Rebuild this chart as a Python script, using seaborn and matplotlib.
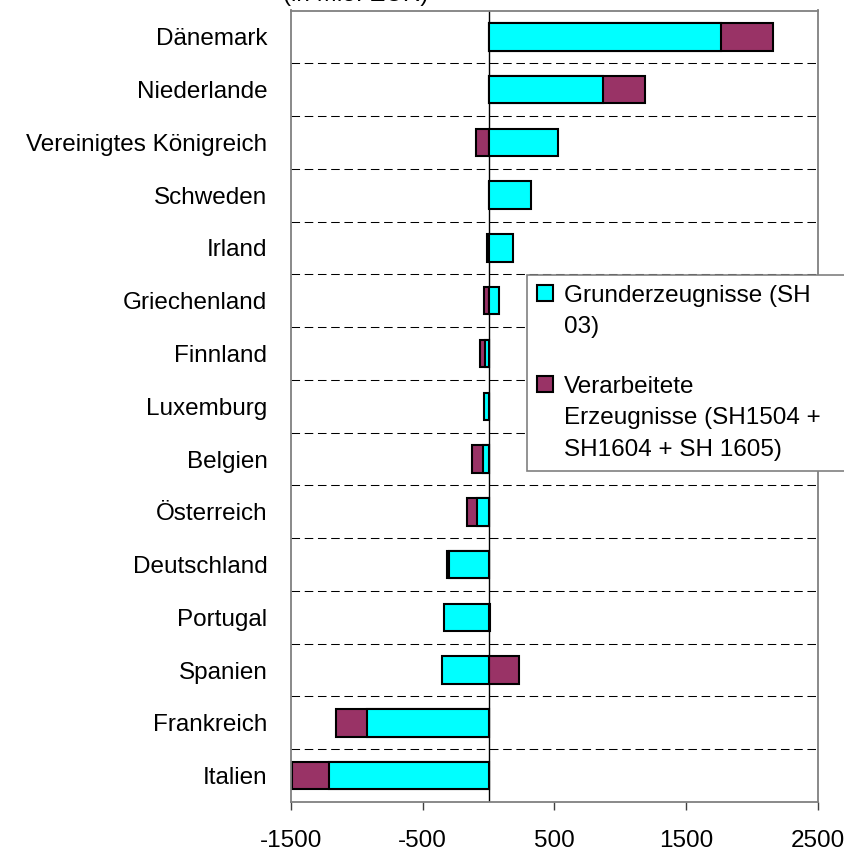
import numpy as np
import matplotlib
matplotlib.use("Agg")
import matplotlib.pyplot as plt
from matplotlib.patches import Patch
import seaborn as sns

# Werte
laender = ["Dänemark", "Niederlande", "Vereinigtes Königreich", "Schweden", "Irland",
           "Griechenland", "Finnland", "Luxemburg", "Belgien", "Österreich",
           "Deutschland", "Portugal", "Spanien", "Frankreich", "Italien"]
grund = [1767, 865, 530, 323, 183, 77, -27, -32, -42, -90, -303, -338, -351, -926, -1212]
verarb = [392, 324, -95, 0, -12, -32, -38, 0, -81, -76, -15, 12, 229, -233, -279]
xticks = [-1500, -500, 500, 1500, 2500]

cyan = "#00FFFF"
lila = "#993366"

sns.set_style("white")
plt.rcParams["font.family"] = ["Liberation Sans", "DejaVu Sans"]
plt.rcParams["font.size"] = 17.5
plt.rcParams["text.color"] = "black"
plt.rcParams["xtick.color"] = "black"
plt.rcParams["ytick.color"] = "black"

# Excel-Stapelung: gleiche Vorzeichen werden gestapelt, sonst ab 0
aussen = [g + v if g * v > 0 else v for g, v in zip(grund, verarb)]

fig = plt.figure(figsize=(8.45, 8.51), dpi=100)
ax = fig.add_axes([291 / 845, 1 - 802 / 851, (818 - 291) / 845, (802 - 10.5) / 851])

sns.barplot(x=aussen, y=laender, orient="h", color=lila, saturation=1, width=0.52,
            edgecolor="black", linewidth=1.5, errorbar=None, ax=ax)
sns.barplot(x=grund, y=laender, orient="h", color=cyan, saturation=1, width=0.52,
            edgecolor="black", linewidth=1.5, errorbar=None, ax=ax)

ax.axvline(0, color="black", lw=1, zorder=0.8)
ax.set_xlim(-1500, 2500)
ax.set_xticks(xticks)
ax.set_xticklabels([str(t) for t in xticks])
ax.set_ylim(14.5, -0.5)
ax.set_xlabel("")
ax.set_ylabel("")

# gestrichelte Trennlinien zwischen den Ländern
ax.set_yticks(np.arange(0.5, 14, 1), minor=True)
ax.grid(which="minor", axis="y", color="black", ls=(0, (8.2, 4.5)), lw=0.75)
ax.set_axisbelow(True)

for sp in ax.spines.values():
    sp.set_color("#808080")
    sp.set_linewidth(1.3)

ax.tick_params(axis="x", bottom=True, direction="out", length=6, width=1,
               color="#404040", labelcolor="black", pad=14, labelsize=17.5)
ax.tick_params(axis="y", which="both", left=False, length=0, pad=17,
               labelcolor="black", labelsize=17.5)

fig.text(283 / 845, 1 - 0.5 / 851, "(in Mio. EUR)", va="baseline", ha="left",
         fontsize=17.5, color="black")

handles = [Patch(facecolor=cyan, edgecolor="black", lw=1.5),
           Patch(facecolor="none", edgecolor="none"),
           Patch(facecolor="none", edgecolor="none"),
           Patch(facecolor=lila, edgecolor="black", lw=1.5),
           Patch(facecolor="none", edgecolor="none"),
           Patch(facecolor="none", edgecolor="none")]
labels = ["Grunderzeugnisse (SH", "03)", "", "Verarbeitete",
          "Erzeugnisse (SH1504 +", "SH1604 + SH 1605)"]
leg = ax.legend(handles, labels, loc="upper left",
                bbox_to_anchor=(527 / 845, 1 - 275 / 851, 340 / 845, 0.0001),
                bbox_transform=fig.transFigure, mode="expand", frameon=True, fancybox=False,
                edgecolor="#808080", framealpha=1, borderpad=0.4, borderaxespad=0,
                handlelength=0.66, handleheight=0.66, handletextpad=0.45,
                labelspacing=0.4, fontsize=17.5)
leg.get_frame().set_linewidth(1.2)
leg.texts[2].set_fontsize(4)

fig.savefig("out.png", dpi=100)
